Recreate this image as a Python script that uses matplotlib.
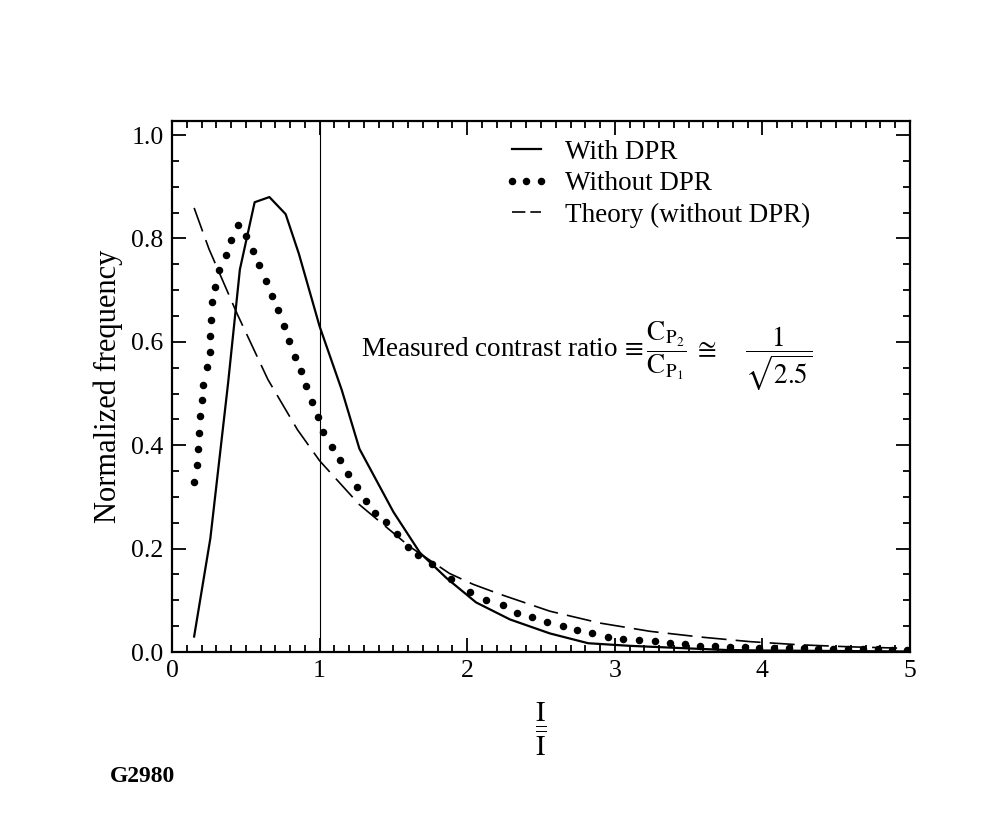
import matplotlib
matplotlib.use("Agg")
import matplotlib.pyplot as plt
from matplotlib.ticker import MultipleLocator

plt.rcParams['font.family'] = ['Liberation Serif', 'DejaVu Serif']
plt.rcParams['mathtext.fontset'] = 'stix'

# With DPR (solid)
x_with = [0.15, 0.26, 0.38, 0.46, 0.56, 0.66, 0.77, 0.86, 1.0, 1.15, 1.27, 1.5, 1.68,
          1.86, 2.06, 2.29, 2.56, 2.82, 3.1, 3.5, 3.75, 4.0, 4.5, 5.0]
y_with = [0.03, 0.22, 0.52, 0.74, 0.87, 0.88, 0.847, 0.77, 0.63, 0.507, 0.393, 0.271, 0.192,
          0.143, 0.096, 0.063, 0.036, 0.017, 0.012, 0.007, 0.004, 0.003, 0.002, 0.001]

# Without DPR (dots)
x_wo = [0.15, 0.167, 0.174, 0.185, 0.19, 0.205, 0.212, 0.235, 0.257, 0.258, 0.262, 0.27,
        0.29, 0.32, 0.364, 0.398, 0.449, 0.50, 0.547, 0.59, 0.635, 0.68, 0.716, 0.76,
        0.795, 0.833, 0.872, 0.908, 0.946, 0.987, 1.025, 1.082, 1.138, 1.195, 1.251,
        1.314, 1.375, 1.448, 1.522, 1.601, 1.669, 1.76, 1.89, 2.02, 2.127, 2.245, 2.335,
        2.437, 2.539, 2.651, 2.742, 2.843, 2.956, 3.057, 3.166, 3.27, 3.374, 3.476, 3.577,
        3.68, 3.78, 3.88, 3.98, 4.08, 4.18, 4.28, 4.38, 4.48, 4.58, 4.68, 4.78, 4.88, 4.98]
y_wo = [0.329, 0.362, 0.393, 0.423, 0.457, 0.487, 0.517, 0.551, 0.581, 0.611, 0.643, 0.677,
        0.707, 0.739, 0.768, 0.797, 0.825, 0.805, 0.775, 0.748, 0.717, 0.688, 0.661, 0.63,
        0.601, 0.571, 0.543, 0.514, 0.483, 0.455, 0.425, 0.397, 0.371, 0.345, 0.319,
        0.292, 0.268, 0.251, 0.228, 0.204, 0.187, 0.170, 0.142, 0.117, 0.100, 0.090, 0.076,
        0.068, 0.059, 0.051, 0.042, 0.037, 0.030, 0.026, 0.024, 0.022, 0.018, 0.016, 0.012,
        0.011, 0.010, 0.009, 0.008, 0.008, 0.007, 0.007, 0.006, 0.006, 0.005, 0.005, 0.005, 0.004, 0.004]

# Theory (without DPR), dashed
x_th = [0.15, 0.25, 0.44, 0.65, 0.85, 1.0, 1.27, 1.61, 1.88, 2.04, 2.22, 2.56, 2.9,
        3.24, 3.58, 3.92, 4.25, 4.6, 5.0]
y_th = [0.859, 0.78, 0.655, 0.527, 0.43, 0.37, 0.285, 0.204, 0.152, 0.131, 0.112, 0.079, 0.056,
        0.040, 0.029, 0.020, 0.014, 0.010, 0.007]

fig = plt.figure(figsize=(9.93, 8.18), dpi=100)
ax = fig.add_axes([0.1732, 0.2029, 0.7432, 0.6491])

ax.plot(x_with, y_with, color='black', lw=1.6, label='With DPR')
ax.plot(x_wo, y_wo, linestyle='none', marker='o', ms=4.4, color='black', label='Without DPR')
ax.plot(x_th, y_th, color='black', lw=1.2, dashes=(15, 5.5), label='Theory (without DPR)')
ax.axvline(1.0, color='black', lw=0.8)

ax.set_xlim(0, 5)
ax.set_ylim(0, 1.027)
ax.xaxis.set_major_locator(MultipleLocator(1))
ax.xaxis.set_minor_locator(MultipleLocator(0.1))
ax.yaxis.set_major_locator(MultipleLocator(0.2))
ax.yaxis.set_minor_locator(MultipleLocator(0.05))
ax.yaxis.set_major_formatter(plt.FuncFormatter(lambda v, p: f'{v:.1f}'))
ax.tick_params(which='both', direction='in', top=True, right=True, width=1.3)
ax.tick_params(which='major', length=10, labelsize=18.5)
ax.tick_params(which='minor', length=5)
ax.tick_params(axis='x', pad=6)
ax.tick_params(axis='y', pad=6)
for s in ax.spines.values():
    s.set_linewidth(1.6)

ax.set_ylabel('Normalized frequency', fontsize=22, labelpad=6)
ax.set_xlabel(r'$\dfrac{\mathrm{I}}{\overline{\mathrm{I}}}$', fontsize=20, labelpad=13)

leg = ax.legend(loc='upper left', bbox_to_anchor=(0.45, 0.965), frameon=False, fontsize=19.5,
                handlelength=1.65, handletextpad=0.6, labelspacing=0.24, numpoints=3,
                borderaxespad=0, borderpad=0)
leg.get_lines()[2].set_dashes((8, 3))

ax.text(1.28, 0.57,
        r'Measured contrast ratio$\,\equiv\dfrac{\mathrm{C}_{\mathrm{P}_2}}{\mathrm{C}_{\mathrm{P}_1}}'
        r'\;\cong\quad\;\dfrac{\mathit{1}}{\sqrt{2.5}}$',
        fontsize=19.5, ha='left', va='baseline')

fig.text(110 / 993, 1 - 777 / 818, 'G2980', fontsize=17, fontweight='bold',
         va='center', ha='left')

fig.savefig('out.png', dpi=100)
